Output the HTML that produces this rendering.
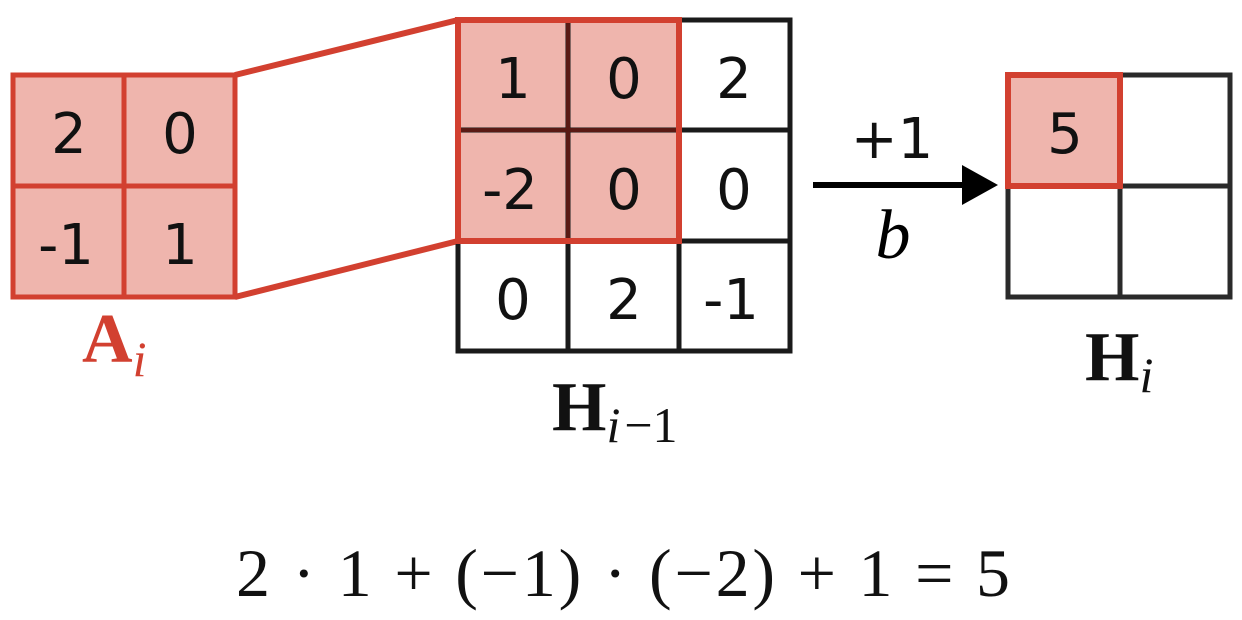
<!DOCTYPE html>
<html><head><meta charset="utf-8"><style>
html,body{margin:0;padding:0;background:#fff;}
svg{display:block}
.d{font-family:"DejaVu Sans",sans-serif;font-size:56px;fill:#111;text-anchor:middle;}
.m{font-family:"Liberation Serif","DejaVu Serif",serif;}
</style></head><body>
<svg width="1242" height="620" viewBox="0 0 1242 620" xmlns="http://www.w3.org/2000/svg">
<line x1="235" y1="75" x2="458" y2="20" stroke="#d24030" stroke-width="6"/>
<line x1="235" y1="297" x2="458" y2="241" stroke="#d24030" stroke-width="6"/>
<rect x="13" y="75" width="222" height="222" fill="#efb5ad"/>
<g stroke="#d24030" stroke-width="5" fill="none">
<rect x="13" y="75" width="222" height="222"/>
<line x1="124" y1="75" x2="124" y2="297"/>
<line x1="13" y1="186" x2="235" y2="186"/>
</g>
<text class="d" x="69" y="153">2</text><text class="d" x="180" y="153">0</text>
<text class="d" x="66" y="264">-1</text><text class="d" x="180" y="264">1</text>
<rect x="458" y="20" width="221" height="221" fill="#efb5ad"/>
<g stroke="#1a1a1a" stroke-width="5" fill="none">
<rect x="458" y="20" width="332" height="331"/>
<line x1="568" y1="20" x2="568" y2="351"/>
<line x1="679" y1="20" x2="679" y2="351"/>
<line x1="458" y1="130" x2="790" y2="130"/>
<line x1="458" y1="241" x2="790" y2="241"/>
</g>
<g stroke="#5a1a14" stroke-width="4">
<line x1="568" y1="20" x2="568" y2="241"/>
<line x1="458" y1="130" x2="679" y2="130"/>
</g>
<rect x="458" y="20" width="221" height="221" fill="none" stroke="#d24030" stroke-width="6"/>
<text class="d" x="513" y="98">1</text><text class="d" x="624" y="98">0</text><text class="d" x="734" y="98">2</text>
<text class="d" x="510" y="209">-2</text><text class="d" x="624" y="209">0</text><text class="d" x="734" y="209">0</text>
<text class="d" x="513" y="319">0</text><text class="d" x="624" y="319">2</text><text class="d" x="731" y="319">-1</text>
<line x1="813" y1="185" x2="965" y2="185" stroke="#000" stroke-width="6"/>
<polygon points="962,165 998,185 962,205" fill="#000"/>
<text class="d" x="892" y="158" style="font-size:56px">+1</text>
<text class="m" x="893" y="258" style="font-size:70px;font-style:italic;text-anchor:middle">b</text>
<rect x="1008" y="75" width="222" height="222" fill="none"/>
<g stroke="#2a2a2a" stroke-width="5" fill="none">
<rect x="1008" y="75" width="222" height="222"/>
<line x1="1120" y1="75" x2="1120" y2="297"/>
<line x1="1008" y1="186" x2="1230" y2="186"/>
</g>
<rect x="1008" y="75" width="112" height="111" fill="#efb5ad" stroke="#d24030" stroke-width="6"/>
<text class="d" x="1065" y="153">5</text>
<text class="m" x="82" y="362" style="font-size:70px;font-weight:bold;fill:#d24030">A<tspan style="font-size:50px;font-weight:normal;font-style:italic" dy="14">i</tspan></text>
<text class="m" x="552" y="430" style="font-size:70px;font-weight:bold;fill:#111">H<tspan style="font-size:50px;font-weight:normal;font-style:italic" dy="12">i</tspan><tspan style="font-size:50px;font-weight:normal" dx="4">−1</tspan></text>
<text class="m" x="1085" y="380" style="font-size:70px;font-weight:bold;fill:#111">H<tspan style="font-size:50px;font-weight:normal;font-style:italic" dy="12">i</tspan></text>
<text class="m" x="236" y="596" textLength="774" lengthAdjust="spacing" style="font-size:68px;fill:#111">2 · 1 + (−1) · (−2) + 1 = 5</text>
</svg>
</body></html>
